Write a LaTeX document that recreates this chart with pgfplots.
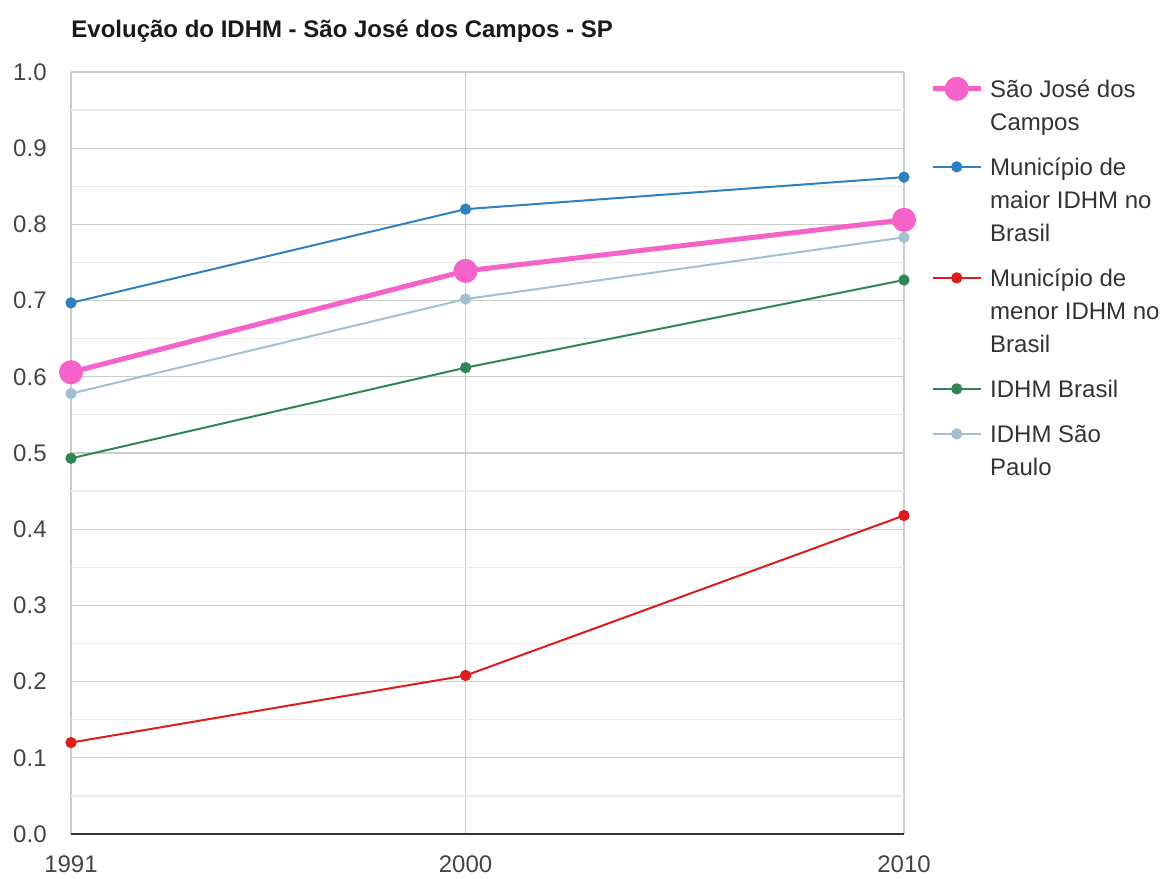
\documentclass[border=0pt]{standalone}
\usepackage{pgfplots}
\pgfplotsset{compat=1.18}
\usepackage{fontspec}
\setmainfont{Liberation Sans}
\definecolor{cpink}{HTML}{F562C9}
\definecolor{cblue}{HTML}{2F80BE}
\definecolor{cred}{HTML}{DD1C1C}
\definecolor{cgreen}{HTML}{2F8556}
\definecolor{clight}{HTML}{A2C0CF}
\definecolor{tickgray}{HTML}{444444}
\begin{document}
\begin{tikzpicture}
\path[use as bounding box] (0,0) rectangle (580.5pt,439pt);
\node[anchor=base west, inner sep=0pt, font=\fontsize{12}{14}\selectfont\bfseries, text=black!90] at (35.5pt,420pt) {Evolução do IDHM - São José dos Campos - SP};
\begin{axis}[
  scale only axis,
  width=416.5pt, height=381pt,
  at={(35.5pt,22pt)}, anchor=south west,
  xmin=1991, xmax=2010, ymin=0, ymax=1,
  xtick={1991,2000,2010}, xticklabels={1991,2000,2010},
  ytick={0,0.1,...,1.0},
  yticklabels={0.0,0.1,0.2,0.3,0.4,0.5,0.6,0.7,0.8,0.9,1.0},
  minor ytick={0.05,0.15,...,0.95},
  grid=both,
  major grid style={draw=black!20, line width=0.6pt},
  minor grid style={draw=black!8, line width=0.6pt},
  axis x line*=bottom, axis y line*=left,
  x axis line style={draw=black!80, line width=1pt},
  y axis line style={draw=none},
  major tick length=0pt, minor tick length=0pt,
  tick style={draw=none},
  /pgf/number format/assume math mode=true,
  every tick label/.append style={font=\fontsize{12}{14}\selectfont, text=tickgray, inner sep=0pt},
  xticklabel style={anchor=center, yshift=-15pt},
  yticklabel style={anchor=east, xshift=-12pt},
  legend image code/.code={\draw[mark repeat=2,mark phase=2,#1,yshift=4.3pt] plot coordinates {(0pt,0pt) (12pt,0pt) (24pt,0pt)};},
  legend style={draw=none, fill=none, inner sep=0pt, at={(axis description cs:1.031,0.9974)}, anchor=north west,
    font=\fontsize{12}{16.5}\selectfont, text=black!80, row sep=6pt, /tikz/column sep=3.5pt,
    nodes={inner sep=0pt, text depth=}, cells={anchor=base west}},
  clip=false,
]
\addplot[cpink, line width=2.5pt, mark=*, mark size=4.75pt, mark options={solid}] coordinates {(1991,0.606) (2000,0.739) (2010,0.806)};
\addlegendentry{\parbox[t]{100pt}{\strut São José dos\newline Campos\strut}}
\addplot[cblue, line width=1pt, mark=*, mark size=2.3pt] coordinates {(1991,0.697) (2000,0.820) (2010,0.862)};
\addlegendentry{\parbox[t]{100pt}{\strut Município de\newline maior IDHM no\newline Brasil\strut}}
\addplot[cred, line width=1pt, mark=*, mark size=2.3pt] coordinates {(1991,0.120) (2000,0.208) (2010,0.418)};
\addlegendentry{\parbox[t]{100pt}{\strut Município de\newline menor IDHM no\newline Brasil\strut}}
\addplot[cgreen, line width=1pt, mark=*, mark size=2.3pt] coordinates {(1991,0.493) (2000,0.612) (2010,0.727)};
\addlegendentry{\parbox[t]{100pt}{\strut IDHM Brasil\strut}}
\addplot[clight, line width=1pt, mark=*, mark size=2.3pt] coordinates {(1991,0.578) (2000,0.702) (2010,0.783)};
\addlegendentry{\parbox[t]{100pt}{\strut IDHM São\newline Paulo\strut}}
\end{axis}
\end{tikzpicture}
\end{document}
